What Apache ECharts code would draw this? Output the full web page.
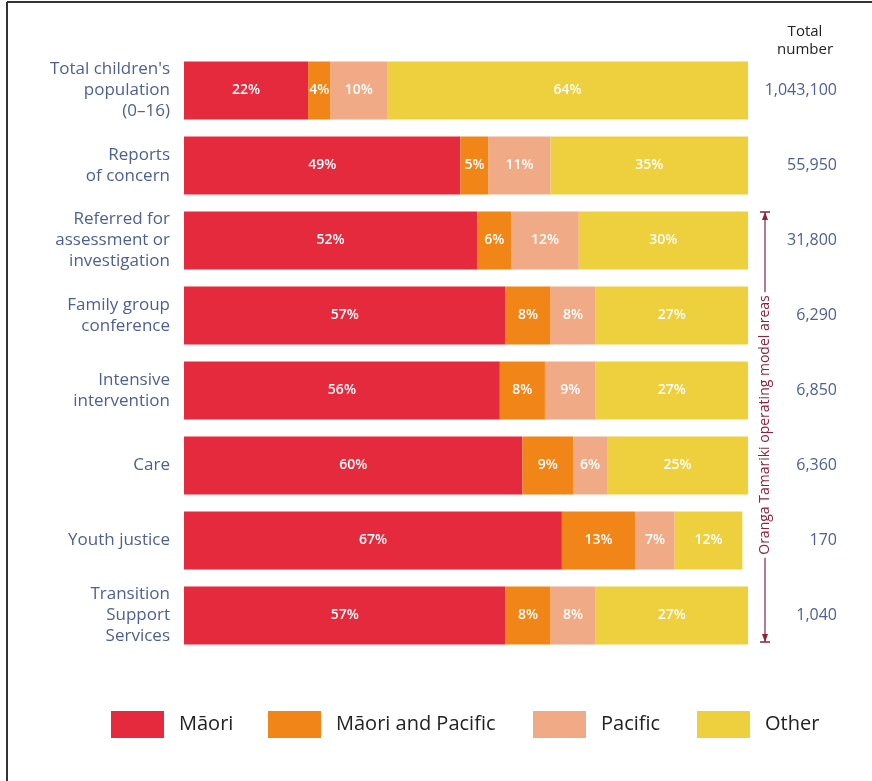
<!DOCTYPE html>
<html>
<head>
<meta charset="utf-8">
<script src="https://cdn.jsdelivr.net/npm/echarts/dist/echarts.min.js"></script>
<style>
  html, body { margin: 0; padding: 0; background: #fff; }
  #main { width: 872px; height: 781px; }
</style>
</head>
<body>
<div id="main"></div>
<script>
// categories, top to bottom
var categories = [
  "Total children's\npopulation\n(0–16)",
  'Reports\nof concern',
  'Referred for\nassessment or\ninvestigation',
  'Family group\nconference',
  'Intensive\nintervention',
  'Care',
  'Youth justice',
  'Transition\nSupport\nServices'
];
// shares in %
var maori = [22, 49, 52, 57, 56, 60, 67, 57];
var maoriPacific = [4, 5, 6, 8, 8, 9, 13, 8];
var pacific = [10, 11, 12, 8, 9, 6, 7, 8];
var other = [64, 35, 30, 27, 27, 25, 12, 27];
// right-hand column
var totals = ['1,043,100', '55,950', '31,800', '6,290', '6,850', '6,360', '170', '1,040'];

var seriesNames = ['Māori', 'Māori and Pacific', 'Pacific', 'Other'];
var colors = ['#E52A3E', '#F28518', '#F0AB86', '#EECF3E'];
var seriesData = [maori, maoriPacific, pacific, other];

var FONT = '"Open Sans", Lato, sans-serif';
var blue = '#4E5F97';
var annot = '#8E2238';

var chart = echarts.init(document.getElementById('main'), null, { renderer: 'canvas' });

var series = seriesData.map(function(d, i) {
  return {
    name: seriesNames[i],
    type: 'bar',
    stack: 'all',
    barWidth: 58,
    data: d,
    itemStyle: { color: colors[i] },
    label: {
      show: true,
      position: 'inside',
      color: '#fff',
      fontFamily: FONT,
      fontWeight: 600,
      fontSize: 14,
      formatter: '{c}%'
    },
    emphasis: { disabled: true },
    animation: false
  };
});

// one legend per item so each box sits where it does in the picture
var legendLefts = [111, 268, 533, 697];
var legends = seriesNames.map(function(n, i) {
  return {
    data: [n],
    left: legendLefts[i],
    top: 711,
    padding: 0,
    itemWidth: 53,
    itemHeight: 27,
    itemGap: 0,
    icon: 'rect',
    selectedMode: false,
    textStyle: { fontFamily: FONT, fontSize: 20, color: '#222', padding: [0, 0, 0, 10] }
  };
});

var option = {
  backgroundColor: '#fff',
  animation: false,
  color: colors,
  legend: legends,
  grid: { left: 184, right: 124, top: 53, height: 600 },
  xAxis: {
    type: 'value',
    min: 0,
    max: 100,
    show: false
  },
  yAxis: [{
    type: 'category',
    inverse: true,
    data: categories,
    axisLine: { show: false },
    axisTick: { show: false },
    axisLabel: {
      margin: 14,
      color: blue,
      fontFamily: FONT,
      fontSize: 17,
      lineHeight: 21,
      align: 'right'
    }
  }, {
    type: 'category',
    inverse: true,
    position: 'right',
    data: totals,
    axisLine: { show: false },
    axisTick: { show: false },
    axisLabel: {
      margin: 89,
      align: 'right',
      color: blue,
      fontFamily: FONT,
      fontSize: 16
    }
  }],
  series: series,
  graphic: [
    // frame edges (top and left)
    { type: 'line', shape: { x1: 7, y1: 2, x2: 872, y2: 2 }, style: { stroke: '#333', lineWidth: 2 } },
    { type: 'line', shape: { x1: 7, y1: 2, x2: 7, y2: 781 }, style: { stroke: '#333', lineWidth: 2 } },
    // column header
    {
      type: 'text', x: 805, y: 23,
      style: { text: 'Total\nnumber', fill: '#222', font: '15px ' + FONT, lineHeight: 18, align: 'center' }
    },
    // bracket for operating model areas
    { type: 'line', shape: { x1: 765, y1: 212, x2: 765, y2: 642 }, style: { stroke: annot, lineWidth: 1.2 } },
    { type: 'line', shape: { x1: 760, y1: 212, x2: 770, y2: 212 }, style: { stroke: annot, lineWidth: 1.5 } },
    { type: 'line', shape: { x1: 760, y1: 642, x2: 770, y2: 642 }, style: { stroke: annot, lineWidth: 1.5 } },
    { type: 'polygon', shape: { points: [[762, 220], [768, 220], [765, 212]] }, style: { fill: annot } },
    { type: 'polygon', shape: { points: [[762, 634], [768, 634], [765, 642]] }, style: { fill: annot } },
    {
      type: 'text',
      x: 765, y: 425,
      rotation: Math.PI / 2,
      style: {
        text: 'Oranga Tamariki operating model areas',
        fill: annot,
        font: '14px ' + FONT,
        align: 'center',
        verticalAlign: 'middle',
        backgroundColor: '#fff',
        padding: [1, 3]
      }
    }
  ]
};

chart.setOption(option);
</script>
</body>
</html>
